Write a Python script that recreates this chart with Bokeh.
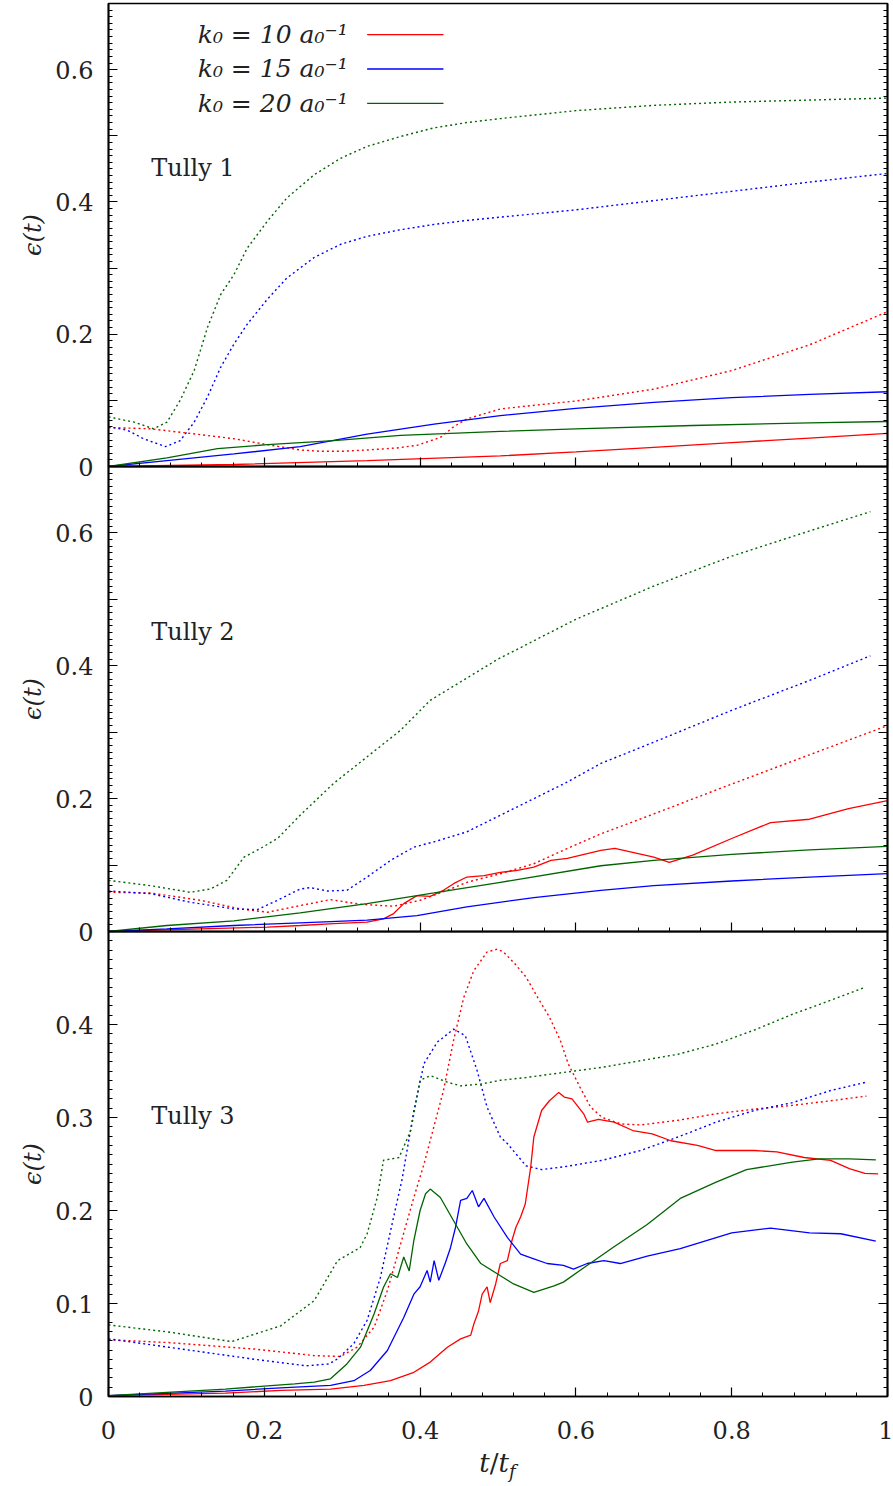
import numpy as np
from bokeh.plotting import figure
from bokeh.layouts import column
from bokeh.models import (FixedTicker, LinearAxis, Label, Arrow, Range1d, Div,
                          CustomJSTickFormatter)
from bokeh.embed import file_html
from bokeh.resources import INLINE

# ---------------- data ----------------
# Panel "Tully 1"
t1_k10_x = [0, 0.161, 0.332, 0.503, 0.6, 0.7, 0.8, 0.9, 1.0]
t1_k10_y = [0, 0.003, 0.009, 0.016, 0.022, 0.029, 0.036, 0.043, 0.05]
t1_k10d_x = [0, 0.054, 0.105, 0.161, 0.204, 0.246, 0.272, 0.3, 0.332, 0.37, 0.396, 0.426, 0.443,
             0.46, 0.503, 0.55, 0.6, 0.7, 0.8, 0.9, 1.0]
t1_k10d_y = [0.059, 0.057, 0.050, 0.042, 0.033, 0.025, 0.023, 0.023, 0.025, 0.028, 0.032, 0.044, 0.06,
             0.072, 0.087, 0.093, 0.099, 0.117, 0.145, 0.184, 0.234]
t1_k15_x = [0, 0.075, 0.161, 0.246, 0.332, 0.418, 0.503, 0.6, 0.7, 0.8, 0.9, 1.0]
t1_k15_y = [0, 0.009, 0.019, 0.030, 0.049, 0.064, 0.077, 0.088, 0.097, 0.104, 0.109, 0.113]
t1_k15d_x = [0, 0.024, 0.045, 0.073, 0.092, 0.11, 0.127, 0.144, 0.161, 0.178, 0.204, 0.229, 0.264,
             0.298, 0.332, 0.375, 0.418, 0.46, 0.503, 0.6, 0.7, 0.8, 0.9, 1.0]
t1_k15d_y = [0.060, 0.055, 0.042, 0.030, 0.039, 0.067, 0.105, 0.15, 0.185, 0.215, 0.253, 0.285, 0.316,
             0.336, 0.348, 0.358, 0.366, 0.372, 0.377, 0.388, 0.402, 0.416, 0.430, 0.443]
t1_k20_x = [0, 0.075, 0.14, 0.204, 0.289, 0.375, 0.503, 0.6, 0.75, 0.9, 1.0]
t1_k20_y = [0, 0.013, 0.027, 0.033, 0.039, 0.047, 0.053, 0.057, 0.062, 0.066, 0.068]
t1_k20d_x = [0, 0.033, 0.058, 0.075, 0.092, 0.11, 0.127, 0.144, 0.161, 0.178, 0.204, 0.229, 0.264,
             0.298, 0.332, 0.375, 0.418, 0.46, 0.503, 0.6, 0.7, 0.8, 0.9, 1.0]
t1_k20d_y = [0.075, 0.067, 0.057, 0.067, 0.10, 0.145, 0.21, 0.26, 0.29, 0.33, 0.371, 0.406, 0.441,
             0.466, 0.484, 0.499, 0.512, 0.52, 0.526, 0.538, 0.546, 0.551, 0.554, 0.557]

# Panel "Tully 2"
t2_k10_x = [0, 0.118, 0.204, 0.246, 0.289, 0.332, 0.353, 0.366, 0.379, 0.396, 0.413, 0.43, 0.443, 0.46,
            0.482, 0.503, 0.525, 0.546, 0.568, 0.589, 0.632, 0.65, 0.7, 0.72, 0.75, 0.8, 0.85, 0.9,
            0.95, 1.0]
t2_k10_y = [0, 0.004, 0.0065, 0.009, 0.012, 0.014, 0.019, 0.027, 0.042, 0.054, 0.053, 0.062, 0.072,
            0.082, 0.084, 0.089, 0.092, 0.097, 0.107, 0.110, 0.122, 0.125, 0.112, 0.104, 0.115, 0.14,
            0.164, 0.169, 0.185, 0.197]
t2_k10d_x = [0, 0.054, 0.118, 0.169, 0.204, 0.246, 0.285, 0.323, 0.366, 0.4, 0.439, 0.46, 0.503, 0.546,
             0.589, 0.632, 0.7, 0.8, 0.9, 1.0]
t2_k10d_y = [0.059, 0.058, 0.047, 0.034, 0.029, 0.039, 0.048, 0.041, 0.038, 0.047, 0.064, 0.074, 0.087,
             0.102, 0.125, 0.147, 0.177, 0.222, 0.266, 0.31]
t2_k15_x = [0, 0.075, 0.161, 0.246, 0.332, 0.396, 0.46, 0.546, 0.632, 0.7, 0.8, 0.9, 1.0]
t2_k15_y = [0, 0.004, 0.009, 0.013, 0.017, 0.024, 0.037, 0.051, 0.062, 0.069, 0.076, 0.082, 0.087]
t2_k15d_x = [0, 0.054, 0.105, 0.161, 0.191, 0.217, 0.246, 0.259, 0.281, 0.306, 0.332, 0.362, 0.392,
             0.418, 0.46, 0.503, 0.546, 0.589, 0.632, 0.7, 0.8, 0.9, 0.978]
t2_k15d_y = [0.061, 0.057, 0.044, 0.034, 0.033, 0.047, 0.064, 0.066, 0.061, 0.062, 0.082, 0.107, 0.127,
             0.135, 0.15, 0.175, 0.2, 0.225, 0.253, 0.285, 0.333, 0.378, 0.415]
t2_k20_x = [0, 0.075, 0.161, 0.246, 0.332, 0.418, 0.503, 0.632, 0.7, 0.8, 0.9, 1.0]
t2_k20_y = [0, 0.009, 0.016, 0.028, 0.042, 0.058, 0.074, 0.099, 0.107, 0.116, 0.123, 0.128]
t2_k20d_x = [0, 0.054, 0.105, 0.131, 0.152, 0.174, 0.195, 0.217, 0.246, 0.289, 0.332, 0.375, 0.413,
             0.5, 0.6, 0.7, 0.8, 0.9, 0.978]
t2_k20d_y = [0.077, 0.069, 0.059, 0.064, 0.077, 0.112, 0.125, 0.14, 0.175, 0.223, 0.263, 0.303, 0.348,
             0.41, 0.47, 0.52, 0.565, 0.603, 0.632]

# Panel "Tully 3"
t3_k10_x = [0, 0.15, 0.221, 0.285, 0.328, 0.362, 0.392, 0.413, 0.435, 0.452, 0.465, 0.469, 0.475,
            0.4797, 0.486, 0.49, 0.497, 0.503, 0.512, 0.518, 0.523, 0.529, 0.535, 0.542, 0.546, 0.556,
            0.566, 0.578, 0.585, 0.595, 0.61, 0.615, 0.629, 0.649, 0.673, 0.698, 0.722, 0.756, 0.78,
            0.829, 0.858, 0.893, 0.927, 0.951, 0.971, 0.988]
t3_k10_y = [0.001, 0.0036, 0.0065, 0.008, 0.012, 0.017, 0.026, 0.037, 0.053, 0.062, 0.066, 0.078, 0.092,
            0.110, 0.118, 0.101, 0.121, 0.143, 0.146, 0.168, 0.182, 0.193, 0.207, 0.2466, 0.279, 0.3075,
            0.318, 0.327, 0.322, 0.32, 0.304, 0.295, 0.298, 0.295, 0.286, 0.2825, 0.275, 0.27, 0.2645,
            0.2645, 0.263, 0.257, 0.2538, 0.245, 0.240, 0.2394]
t3_k10d_x = [0, 0.077, 0.1875, 0.264, 0.298, 0.319, 0.341, 0.358, 0.375, 0.392, 0.405, 0.43, 0.443,
             0.456, 0.469, 0.486, 0.499, 0.507, 0.522, 0.536, 0.551, 0.566, 0.58, 0.59, 0.605, 0.619,
             0.634, 0.658, 0.683, 0.731, 0.78, 0.829, 0.878, 0.927, 0.973]
t3_k10d_y = [0.061, 0.058, 0.051, 0.044, 0.043, 0.053, 0.0745, 0.114, 0.164, 0.214, 0.25, 0.329, 0.383,
             0.429, 0.458, 0.478, 0.481, 0.478, 0.465, 0.451, 0.429, 0.408, 0.383, 0.358, 0.333, 0.311,
             0.30, 0.293, 0.292, 0.297, 0.304, 0.309, 0.313, 0.318, 0.323]
t3_k15_x = [0, 0.15, 0.221, 0.285, 0.315, 0.336, 0.358, 0.379, 0.392, 0.40, 0.409, 0.413, 0.418, 0.424,
            0.4326, 0.439, 0.4455, 0.452, 0.46, 0.467, 0.475, 0.482, 0.495, 0.512, 0.529, 0.546, 0.563,
            0.584, 0.597, 0.6145, 0.636, 0.657, 0.6915, 0.734, 0.8, 0.85, 0.9, 0.94, 0.985]
t3_k15_y = [0.001, 0.0057, 0.0093, 0.012, 0.017, 0.028, 0.0495, 0.085, 0.11, 0.118, 0.1355, 0.123,
            0.146, 0.125, 0.144, 0.16, 0.182, 0.211, 0.213, 0.2215, 0.204, 0.213, 0.193, 0.171, 0.153,
            0.148, 0.143, 0.141, 0.137, 0.143, 0.146, 0.143, 0.151, 0.159, 0.176, 0.181, 0.176, 0.175,
            0.167]
t3_k15d_x = [0, 0.077, 0.1875, 0.254, 0.283, 0.294, 0.315, 0.332, 0.349, 0.366, 0.377, 0.392, 0.405,
             0.422, 0.443, 0.458, 0.473, 0.486, 0.503, 0.512, 0.536, 0.556, 0.585, 0.634, 0.683, 0.731,
             0.78, 0.829, 0.878, 0.927, 0.973]
t3_k15d_y = [0.062, 0.053, 0.040, 0.033, 0.035, 0.0405, 0.057, 0.082, 0.128, 0.193, 0.234, 0.3075, 0.358,
             0.381, 0.395, 0.388, 0.351, 0.311, 0.279, 0.272, 0.248, 0.244, 0.247, 0.254, 0.2645, 0.279,
             0.295, 0.3075, 0.316, 0.329, 0.338]
t3_k20_x = [0, 0.15, 0.239, 0.264, 0.285, 0.306, 0.3235, 0.341, 0.353, 0.362, 0.371, 0.379, 0.386,
            0.392, 0.40, 0.407, 0.413, 0.426, 0.443, 0.46, 0.478, 0.499, 0.52, 0.546, 0.572, 0.584, 0.606,
            0.649, 0.6915, 0.734, 0.78, 0.819, 0.878, 0.912, 0.951, 0.985]
t3_k20_y = [0.001, 0.008, 0.0136, 0.0154, 0.019, 0.035, 0.053, 0.089, 0.1175, 0.132, 0.128, 0.15, 0.135,
            0.168, 0.2, 0.218, 0.223, 0.214, 0.189, 0.164, 0.143, 0.132, 0.121, 0.112, 0.119, 0.123,
            0.136, 0.161, 0.185, 0.213, 0.2305, 0.244, 0.252, 0.2555, 0.2555, 0.2545]
t3_k20d_x = [0, 0.08, 0.158, 0.221, 0.264, 0.294, 0.323, 0.332, 0.345, 0.353, 0.373, 0.388, 0.40, 0.413,
             0.435, 0.452, 0.478, 0.503, 0.536, 0.634, 0.731, 0.78, 0.829, 0.878, 0.927, 0.971]
t3_k20d_y = [0.077, 0.069, 0.059, 0.076, 0.103, 0.146, 0.16, 0.175, 0.214, 0.254, 0.257, 0.286, 0.34,
             0.345, 0.338, 0.334, 0.336, 0.34, 0.343, 0.354, 0.368, 0.379, 0.394, 0.411, 0.426, 0.44]

panel_names = ["Tully 1", "Tully 2", "Tully 3"]
k_values = [10, 15, 20]
colors = ["#ff0000", "#0000ff", "#006400"]

# tick positions
x_major = [0, 0.2, 0.4, 0.6, 0.8, 1.0]
x_minor = [round(0.04 * i, 2) for i in range(26)]
y12_labeled = [0, 0.2, 0.4, 0.6]
y12_unlabeled = [0.1, 0.3, 0.5, 0.7]
y12_minor = [round(0.01 * i, 2) for i in range(71)]
y3_labeled = [0, 0.1, 0.2, 0.3, 0.4]
y3_unlabeled = [0.5]
y3_minor = [round(0.01 * i, 2) for i in range(51)]

# ---------------- styling ----------------
FONT = "DejaVu Serif"
TXT = "#222222"
LW = 1.3
DOT = "2 3"
MAJ, MIN = 9, 4

num_fmt = CustomJSTickFormatter(code="""
    if (Math.abs(tick) < 1e-9) return '0';
    if (Math.abs(tick - 1) < 1e-9) return '1';
    return tick.toFixed(1);
""")


def tick_axis(ticks, length):
    """An axis without labels: draws only (inward) ticks of the given length."""
    ax = LinearAxis(ticker=FixedTicker(ticks=[], minor_ticks=ticks))
    ax.axis_line_color = "black"
    ax.axis_line_width = 1.5
    ax.minor_tick_in = length
    ax.minor_tick_out = 0
    ax.minor_tick_line_color = "black"
    ax.minor_tick_line_width = 1.2 if length == MAJ else 1.0
    ax.major_tick_in = 0
    ax.major_tick_out = 0
    ax.major_label_standoff = 0
    return ax


def label_axis(ticks, minor):
    ax = LinearAxis(ticker=FixedTicker(ticks=ticks, minor_ticks=minor), formatter=num_fmt)
    ax.axis_line_color = "black"
    ax.axis_line_width = 1.5
    ax.major_tick_in = MAJ
    ax.major_tick_out = 0
    ax.minor_tick_in = MIN
    ax.minor_tick_out = 0
    ax.major_tick_line_color = "black"
    ax.minor_tick_line_color = "black"
    ax.major_tick_line_width = 1.2
    ax.minor_tick_line_width = 1.0
    ax.major_label_text_font = FONT
    ax.major_label_text_font_size = "24px"
    ax.major_label_text_color = TXT
    return ax


def make_panel(ymax, frame_h, ylab, yunl, ymin, bottom, top_border, bottom_border, margin_top):
    p = figure(frame_width=779, frame_height=frame_h,
               x_range=Range1d(0, 1), y_range=Range1d(0, ymax),
               x_axis_location=None, y_axis_location=None,
               output_backend="svg", toolbar_location=None,
               min_border_left=108, min_border_right=6,
               min_border_top=top_border, min_border_bottom=bottom_border,
               background_fill_alpha=0, border_fill_alpha=0,
               margin=(margin_top, 0, 0, 0))
    p.grid.visible = False
    p.outline_line_color = "black"
    p.outline_line_width = 1.5

    # left: unlabeled long ticks nearest the frame, then the labeled axis
    p.add_layout(tick_axis(yunl, MAJ), "left")
    ly = label_axis(ylab, ymin)
    ly.major_label_standoff = 15
    ly.axis_label = "ϵ(t)"
    ly.axis_label_text_font = FONT
    ly.axis_label_text_font_style = "italic"
    ly.axis_label_text_font_size = "24px"
    ly.axis_label_text_color = TXT
    ly.axis_label_standoff = 5
    p.add_layout(ly, "left")

    # right: mirrored ticks, no labels
    p.add_layout(tick_axis(ylab + yunl, MAJ), "right")
    p.add_layout(tick_axis(ymin, MIN), "right")

    if bottom:
        lx = label_axis(x_major, x_minor)
        lx.major_label_standoff = 24
        p.add_layout(lx, "below")
    else:
        p.add_layout(tick_axis(x_major, MAJ), "below")
        p.add_layout(tick_axis(x_minor, MIN), "below")
    return p


OV = 18  # overlap so that the "0" labels at panel joints are not cut
p1 = make_panel(0.7, 463, y12_labeled, y12_unlabeled, y12_minor, False, 3, OV, 0)
p2 = make_panel(0.7, 465, y12_labeled, y12_unlabeled, y12_minor, False, 0, OV, -OV)
p3 = make_panel(0.5, 465, y3_labeled, y3_unlabeled, y3_minor, True, 0, 58, -OV)

series = [
    (p1, [(t1_k10_x, t1_k10_y, t1_k10d_x, t1_k10d_y),
          (t1_k15_x, t1_k15_y, t1_k15d_x, t1_k15d_y),
          (t1_k20_x, t1_k20_y, t1_k20d_x, t1_k20d_y)]),
    (p2, [(t2_k10_x, t2_k10_y, t2_k10d_x, t2_k10d_y),
          (t2_k15_x, t2_k15_y, t2_k15d_x, t2_k15d_y),
          (t2_k20_x, t2_k20_y, t2_k20d_x, t2_k20d_y)]),
    (p3, [(t3_k10_x, t3_k10_y, t3_k10d_x, t3_k10d_y),
          (t3_k15_x, t3_k15_y, t3_k15d_x, t3_k15d_y),
          (t3_k20_x, t3_k20_y, t3_k20d_x, t3_k20d_y)]),
]
for p, curves in series:
    for (sx, sy, dx, dy), c in zip(curves, colors):
        p.line(dx, dy, line_color=c, line_width=1.4, line_dash=DOT)
    for (sx, sy, dx, dy), c in zip(curves, colors):
        p.line(sx, sy, line_color=c, line_width=LW)

# panel titles
for p, name, ty in zip([p1, p2, p3], panel_names, [0.451, 0.451, 0.302]):
    p.add_layout(Label(x=0.055, y=ty, text=name, text_font=FONT, text_font_size="24px",
                       text_color=TXT, text_baseline="middle", text_align="left"))

# legend (text on the left, line sample on the right)
for k, c, ly in zip(k_values, colors, [0.653, 0.601, 0.549]):
    p1.add_layout(Label(x=0.307, y=ly, text=f"k₀ = {k} a₀⁻¹", text_font=FONT,
                        text_font_size="25px", text_font_style="italic", text_color=TXT,
                        text_align="right", text_baseline="middle"))
    p1.add_layout(Arrow(end=None, x_start=0.332, y_start=ly, x_end=0.430, y_end=ly,
                        line_color=c, line_width=LW))

# x-axis title t/t_f (HTML so that the subscript is real text)
xtitle = Div(text="<i>t</i>/<i>t<sub style='font-size:18px'>f</sub></i>",
             width=779, height=34, margin=(-4, 0, 0, 108),
             styles={"text-align": "center", "font-family": "DejaVu Serif",
                     "font-size": "26px", "color": TXT, "line-height": "1"})

layout = column(p1, p2, p3, xtitle, spacing=0)
open("out.html", "w").write(file_html(layout, INLINE))
